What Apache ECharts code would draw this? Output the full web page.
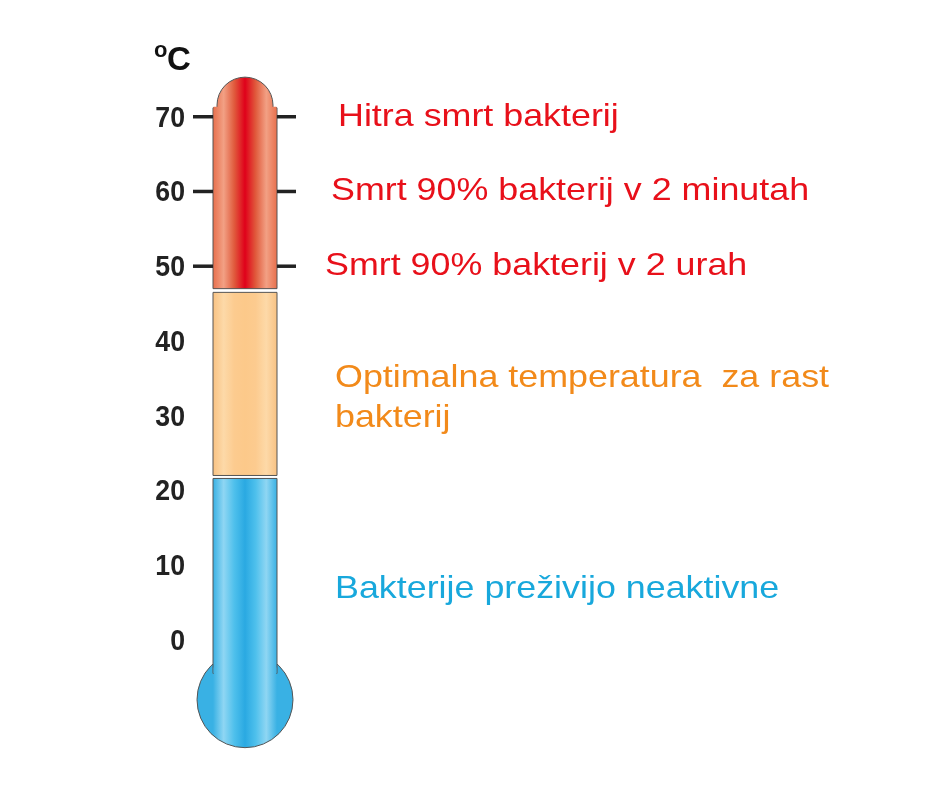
<!DOCTYPE html>
<html>
<head>
<meta charset="UTF-8">
<script src="https://cdn.jsdelivr.net/npm/echarts@6/dist/echarts.min.js"></script>
<style>
  html, body { margin: 0; background: #fff; }
  #chart { width: 940px; height: 788px; }
</style>
</head>
<body>
<div id="chart"></div>
<script>
// temperature bands of the tube (°C)
var bandFrom = [47.0, 22.0, -4.5];
var bandTo = [71.2, 46.5, 21.6];
var bandNames = ['hot', 'optimal', 'cold'];
// tick labels on the scale
var tickValues = [0, 10, 20, 30, 40, 50, 60, 70];
var sideTicks = [50, 60, 70];
// notes to the right
var noteText = ['Hitra smrt bakterij', 'Smrt 90% bakterij v 2 minutah', 'Smrt 90% bakterij v 2 urah',
                'Optimalna temperatura  za rast\nbakterij', 'Bakterije preživijo neaktivne'];
var noteTemp = [70, 60, 50, 32.4, 6.8];
var noteX = [338, 331, 325, 335, 335];
var noteColor = ['#e8101a', '#e8101a', '#e8101a', '#f28a1a', '#18a8dc'];

var tubeL = 213, tubeR = 277, cx = 245;

function grad(c) {
  var stops;
  if (c === 'hot') stops = ['#e8704d', '#f2a084', '#e05a3c', '#e0001a', '#e05a3c', '#f2a084', '#e8704d'];
  else if (c === 'optimal') stops = ['#f8c283', '#fdd9a8', '#fccb8f', '#fcc98a', '#fccb8f', '#fdd9a8', '#f8c283'];
  else stops = ['#39b1e4', '#8fd6f3', '#4ec0ec', '#2aa9e2', '#4ec0ec', '#8fd6f3', '#39b1e4'];
  return new echarts.graphic.LinearGradient(tubeL, 0, tubeR, 0, stops.map(function (s, i) {
    return { offset: i / (stops.length - 1), color: s };
  }), true);
}

var chart = echarts.init(document.getElementById('chart'));
chart.setOption({
  animation: false,
  grid: { left: 0, right: 0, top: 42, bottom: 36 },
  xAxis: { type: 'value', min: 0, max: 940, show: false },
  yAxis: { type: 'value', min: -15, max: 80, show: false },
  series: [
    {
      type: 'custom',
      data: bandNames.map(function (n, i) { return [i, bandFrom[i], bandTo[i]]; }),
      renderItem: function (params, api) {
        var i = api.value(0);
        var y0 = api.coord([0, api.value(1)])[1];
        var y1 = api.coord([0, api.value(2)])[1];
        var fill = grad(bandNames[i]);
        var st = { fill: fill, stroke: '#555', lineWidth: 1 };
        if (i === 0) {
          var domeTop = api.coord([0, 75.3])[1];
          return {
            type: 'group', children: [
              { type: 'rect', shape: { x: tubeL, y: y1, width: tubeR - tubeL, height: y0 - y1 }, style: st },
              { type: 'rect', shape: { x: tubeL + 4, y: domeTop, width: tubeR - tubeL - 8, height: y1 - domeTop + 2, r: [28, 28, 0, 0] }, style: st },
              { type: 'rect', shape: { x: tubeL + 0.6, y: y1 - 1, width: tubeR - tubeL - 1.2, height: 8 }, style: { fill: fill } }
            ]
          };
        }
        if (i === 2) {
          var bc = api.coord([0, -8])[1];
          return {
            type: 'group', children: [
              { type: 'circle', shape: { cx: cx, cy: bc, r: 48 }, style: st },
              { type: 'rect', shape: { x: tubeL, y: y1, width: tubeR - tubeL, height: y0 - y1 }, style: st },
              { type: 'rect', shape: { x: tubeL + 0.6, y: y0 - 6, width: tubeR - tubeL - 1.2, height: 20 }, style: { fill: fill } }
            ]
          };
        }
        return { type: 'rect', shape: { x: tubeL, y: y1, width: tubeR - tubeL, height: y0 - y1 }, style: st };
      }
    },
    {
      type: 'custom',
      data: tickValues.map(function (v) { return [0, v]; }),
      renderItem: function (params, api) {
        var v = api.value(1);
        var y = api.coord([0, v])[1];
        var ch = [{ type: 'text', x: 185, y: y + 2, scaleX: 0.92, style: { x: 0, y: 0, text: String(v), textAlign: 'right', textVerticalAlign: 'middle',
          font: 'bold 29px "Liberation Sans", Arial, sans-serif', fill: '#222' } }];
        if (sideTicks.indexOf(v) >= 0) {
          ch.push({ type: 'line', shape: { x1: 193, y1: y, x2: tubeL, y2: y }, style: { stroke: '#222', lineWidth: 3.5 } });
          ch.push({ type: 'line', shape: { x1: tubeR, y1: y, x2: 296, y2: y }, style: { stroke: '#222', lineWidth: 3.5 } });
        }
        return { type: 'group', children: ch };
      }
    },
    {
      type: 'custom',
      data: noteText.map(function (t, i) { return [noteX[i], noteTemp[i]]; }),
      renderItem: function (params, api) {
        var i = params.dataIndex;
        var p = api.coord([api.value(0), api.value(1)]);
        return { type: 'text', x: p[0], y: p[1], scaleX: 1.12, style: { x: 0, y: 0, text: noteText[i], textAlign: 'left', textVerticalAlign: 'middle',
          font: '32px "Liberation Sans", Arial, sans-serif', fill: noteColor[i], lineHeight: 40 } };
      }
    }
  ],
  graphic: [
    { type: 'text', left: 154, top: 40, style: { text: 'o', font: 'bold 22px "Liberation Sans", Arial, sans-serif', fill: '#111' } },
    { type: 'text', left: 167, top: 44, style: { text: 'C', font: 'bold 33px "Liberation Sans", Arial, sans-serif', fill: '#111' } }
  ]
});
</script>
</body>
</html>
